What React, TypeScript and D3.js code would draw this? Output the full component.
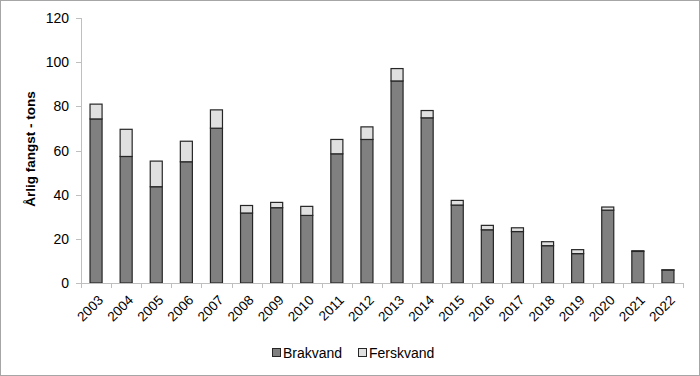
import React from "react";
import * as d3 from "d3";

const years = ["2003","2004","2005","2006","2007","2008","2009","2010","2011","2012","2013","2014","2015","2016","2017","2018","2019","2020","2021","2022"];
const brakvand = [74.3, 57.3, 43.6, 54.9, 70.1, 31.7, 34.1, 30.6, 58.5, 65.0, 91.5, 74.8, 35.3, 24.1, 23.3, 16.9, 13.3, 33.0, 14.3, 5.8];
const ferskvand = [6.7, 12.3, 11.6, 9.3, 8.3, 3.4, 2.4, 4.1, 6.5, 5.7, 5.6, 3.3, 2.1, 2.0, 1.7, 1.8, 1.8, 1.4, 0.3, 0.2];
const seriesNames = ["Brakvand", "Ferskvand"];
const yTicks = [0, 20, 40, 60, 80, 100, 120];
const yLabel = "Årlig fangst - tons";

const W = 700, H = 376;
const m = { left: 81, right: 683, top: 18, bottom: 283 };
const colors = ["#808080", "#e0e0e0"];
const font = "'Liberation Sans', Arial, sans-serif";

export default function App() {
  const rows = years.map((y, i) => ({ year: y, Brakvand: brakvand[i], Ferskvand: ferskvand[i] }));
  const stack = d3.stack<any>().keys(seriesNames)(rows);
  const x = d3.scaleBand().domain(years).range([m.left, m.right]).padding(0);
  const y = d3.scaleLinear().domain([0, 120]).range([m.bottom, m.top]);
  const bw = x.bandwidth() * 0.4;
  const axisColor = "#bfbfbf";
  const boundaries = d3.range(years.length + 1).map((i) => m.left + i * x.step());

  return (
    <div style={{ position: "fixed", left: 0, top: 0 }}>
      <svg width={W} height={H} style={{ display: "block", background: "#fff" }}>
        <rect x={0.5} y={0.5} width={W - 1} height={H - 1} fill="#fff" stroke="#a6a6a6" />
        {/* y axis */}
        <line x1={m.left + 0.5} x2={m.left + 0.5} y1={y(120)} y2={y(0)} stroke={axisColor} />
        {yTicks.map((t) => (
          <g key={t}>
            <line x1={m.left - 5} x2={m.left} y1={Math.round(y(t)) + 0.5} y2={Math.round(y(t)) + 0.5} stroke={axisColor} />
            <text x={m.left - 12} y={y(t) + 5} textAnchor="end" fontFamily={font} fontSize={14} fill="#000">{t}</text>
          </g>
        ))}
        {/* bars */}
        {stack.map((s, si) => (
          <g key={s.key}>
            {s.map((d: any, i: number) => {
              const x0 = (x(years[i]) as number) + (x.bandwidth() - bw) / 2;
              return (
                <rect key={i} x={x0} y={y(d[1])} width={bw} height={Math.max(0, y(d[0]) - y(d[1]))}
                  fill={colors[si]} stroke="#262626" strokeWidth={1.2} />
              );
            })}
          </g>
        ))}
        {/* x axis */}
        <line x1={m.left} x2={m.right} y1={m.bottom + 0.5} y2={m.bottom + 0.5} stroke={axisColor} />
        {boundaries.map((b, i) => (
          <line key={i} x1={Math.round(b) + 0.5} x2={Math.round(b) + 0.5} y1={m.bottom} y2={m.bottom + 5} stroke={axisColor} />
        ))}
        {years.map((yr) => {
          const cx = (x(yr) as number) + x.bandwidth() / 2 + 8;
          const cy = m.bottom + 18;
          return (
            <text key={yr} x={cx} y={cy} textAnchor="end" fontFamily={font} fontSize={13.5} fill="#000"
              transform={`rotate(-45 ${cx} ${cy})`}>{yr}</text>
          );
        })}
        {/* y label */}
        <text transform={`translate(35 ${149}) rotate(-90)`} textAnchor="middle" fontFamily={font} fontSize={13.5} fontWeight="bold" fill="#000">{yLabel}</text>
        {/* legend */}
        {seriesNames.map((n, i) => {
          const lx = i === 0 ? 272 : 358;
          return (
            <g key={n}>
              <rect x={lx + 0.5} y={348.5} width={8} height={8} fill={colors[i]} stroke="#262626" />
              <text x={lx + 11} y={358} fontFamily={font} fontSize={14} fill="#000">{n}</text>
            </g>
          );
        })}
      </svg>
    </div>
  );
}
